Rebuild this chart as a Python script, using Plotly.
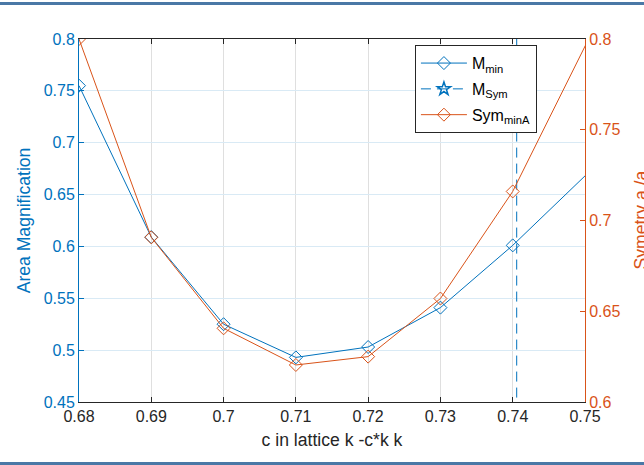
import plotly.graph_objects as go

# Lattice parameter c
c_vals = [0.68, 0.69, 0.70, 0.71, 0.72, 0.73, 0.74, 0.76]
# Minimal area magnification (left axis)
m_min = [0.755, 0.609, 0.525, 0.493, 0.503, 0.541, 0.601, 0.735]
# Symmetry ratio at minimal area (right axis)
sym_min_a = [0.800, 0.6907, 0.6406, 0.6204, 0.625, 0.657, 0.716, 0.876]
# Symmetric configuration (vertical marker line)
c_sym = [0.74055, 0.74055]
m_sym = [0.30, 0.95]

x_ticks = [0.68, 0.69, 0.70, 0.71, 0.72, 0.73, 0.74, 0.75]
x_tick_text = ["0.68", "0.69", "0.7", "0.71", "0.72", "0.73", "0.74", "0.75"]
y1_ticks = [0.45, 0.5, 0.55, 0.6, 0.65, 0.7, 0.75, 0.8]
y1_tick_text = ["0.45", "0.5", "0.55", "0.6", "0.65", "0.7", "0.75", "0.8"]
y2_ticks = [0.6, 0.65, 0.7, 0.75, 0.8]
y2_tick_text = ["0.6", "0.65", "0.7", "0.75", "0.8"]

BLUE = "#0072BD"
ORANGE = "#D95319"
DARK = "#262626"
FONT = "Liberation Sans, Arial, sans-serif"

fig = go.Figure()

fig.add_trace(go.Scatter(
    x=c_vals, y=m_min, name="M<sub>min</sub>", mode="lines+markers",
    legendgroup="a",
    line=dict(color=BLUE, width=1),
    marker=dict(symbol="diamond-open", size=10, color=BLUE, line=dict(width=1)),
))
fig.add_trace(go.Scatter(
    x=c_sym, y=m_sym, name="M<sub>Sym</sub>", mode="lines+markers",
    legendgroup="b",
    line=dict(color=BLUE, width=1, dash="10px,6px"),
    marker=dict(symbol="star-open", size=10, color=BLUE, line=dict(width=1.5)),
))
fig.add_trace(go.Scatter(
    x=c_vals, y=sym_min_a, name="Sym<sub>minA</sub>", mode="lines+markers",
    legendgroup="c", yaxis="y2",
    line=dict(color=ORANGE, width=1),
    marker=dict(symbol="diamond-open", size=10, color=ORANGE, line=dict(width=1)),
))

# window frame bars
for y0, y1 in [(2, 5), (462, 465)]:
    fig.add_shape(
        type="rect", xref="paper", yref="paper",
        x0=-79 / 506, x1=1 + 59 / 506,
        y0=(402 - y1) / 363, y1=(402 - y0) / 363,
        fillcolor="#4a78a6", line=dict(width=0), layer="above",
    )

# right-axis title, placed past the margin edge
fig.add_annotation(
    text="Symetry a /a", textangle=-90, showarrow=False,
    xref="paper", yref="paper", x=1 + (640 - 585) / 506, y=0.5,
    xanchor="center", yanchor="middle",
    font=dict(family=FONT, size=17.6, color=ORANGE),
)

fig.update_layout(
    width=644, height=465,
    margin=dict(l=79, r=59, t=39, b=63),
    paper_bgcolor="white", plot_bgcolor="white",
    font=dict(family=FONT, size=16, color=DARK),
    showlegend=True,
    legend=dict(
        x=0.905, y=0.983, xanchor="right", yanchor="top",
        bgcolor="white", bordercolor=DARK, borderwidth=1,
        font=dict(size=16, color="#000000"),
        itemwidth=46, tracegroupgap=2,
    ),
    xaxis=dict(
        range=[0.68, 0.75], tickvals=x_ticks, ticktext=x_tick_text,
        ticks="inside", ticklen=5, tickcolor=DARK, showline=True,
        linecolor=DARK, linewidth=1, mirror="ticks",
        showgrid=True, gridcolor="#dfdfdf", gridwidth=1, zeroline=False,
        tickfont=dict(size=16, color=DARK),
        title=dict(text="c in lattice k -c*k k", font=dict(size=17.6, color=DARK), standoff=9),
    ),
    yaxis=dict(
        range=[0.45, 0.8], tickvals=y1_ticks, ticktext=y1_tick_text,
        ticks="inside", ticklen=5, tickcolor=BLUE, showline=True,
        linecolor=BLUE, linewidth=1,
        showgrid=True, gridcolor="#d9eaf5", gridwidth=1, zeroline=False,
        tickfont=dict(size=16, color=BLUE),
        title=dict(text="Area Magnification", font=dict(size=17.6, color=BLUE), standoff=8),
        automargin=False,
    ),
    yaxis2=dict(
        range=[0.6, 0.8], tickvals=y2_ticks, ticktext=y2_tick_text,
        overlaying="y", side="right",
        ticks="inside", ticklen=5, tickcolor=ORANGE, showline=True,
        linecolor=ORANGE, linewidth=1,
        showgrid=False, zeroline=False,
        tickfont=dict(size=16, color=ORANGE),
        automargin=False,
    ),
)

fig.write_html("out.html")
